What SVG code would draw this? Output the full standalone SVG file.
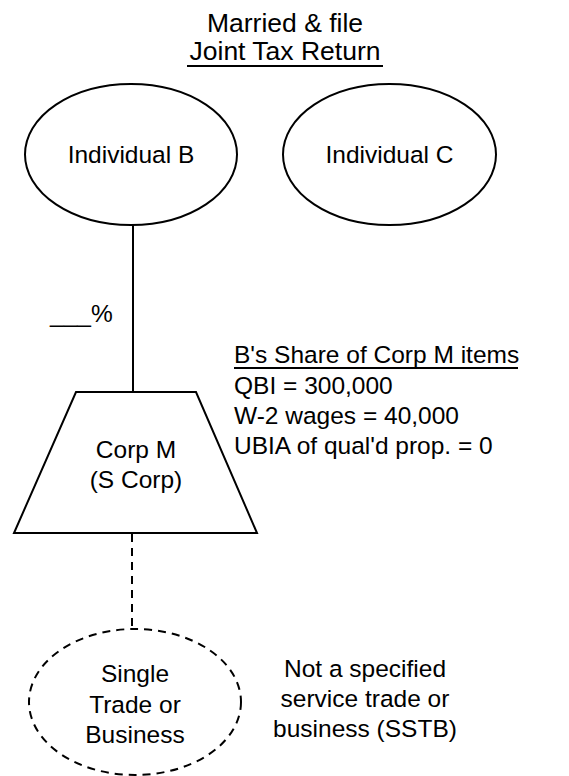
<svg xmlns="http://www.w3.org/2000/svg" width="569" height="776" viewBox="0 0 569 776">
<style>
text{font-family:"Liberation Sans",Arial,sans-serif;font-size:24.5px;fill:#000}
.t{font-size:26.5px}
.c{text-anchor:middle}
.s{fill:#fff;stroke:#000;stroke-width:2}
.d{stroke-dasharray:8,6}
.ln{stroke:#000;stroke-width:2;fill:none}
</style>
<rect width="569" height="776" fill="#fff"/>
<g id="title">
<text class="c t" x="285" y="32">Married &amp; file</text>
<text class="c t" x="285" y="60">Joint Tax Return</text>
<line class="ln" x1="187" y1="66" x2="383" y2="66"/>
</g>
<g id="connectors">
<line class="ln" x1="133" y1="225" x2="133" y2="392"/>
<line class="ln d" x1="132" y1="534" x2="132" y2="629"/>
</g>
<g id="individualB">
<ellipse class="s" cx="131" cy="154.5" rx="106" ry="70.5"/>
<text class="c" x="131" y="163">Individual B</text>
</g>
<g id="individualC">
<ellipse class="s" cx="389.5" cy="154.5" rx="106.5" ry="70.5"/>
<text class="c" x="389.5" y="163">Individual C</text>
</g>
<g id="pct">
<text x="50" y="322">___%</text>
</g>
<g id="corpM">
<polygon class="s" points="76,392 196,392 257,533 14,533"/>
<text class="c" x="136" y="458">Corp M</text>
<text class="c" x="136" y="488">(S Corp)</text>
</g>
<g id="share">
<text x="234" y="363">B's Share of Corp M items</text>
<line class="ln" x1="234" y1="368" x2="518" y2="368"/>
<text x="234" y="394">QBI = 300,000</text>
<text x="234" y="424">W-2 wages = 40,000</text>
<text x="234" y="454">UBIA of qual'd prop. = 0</text>
</g>
<g id="business">
<ellipse class="s d" cx="135" cy="702" rx="106" ry="73"/>
<text class="c" x="135" y="682">Single</text>
<text class="c" x="135" y="713">Trade or</text>
<text class="c" x="135" y="743">Business</text>
</g>
<g id="sstb">
<text class="c" x="365" y="677">Not a specified</text>
<text class="c" x="365" y="707">service trade or</text>
<text class="c" x="365" y="737">business (SSTB)</text>
</g>
</svg>
